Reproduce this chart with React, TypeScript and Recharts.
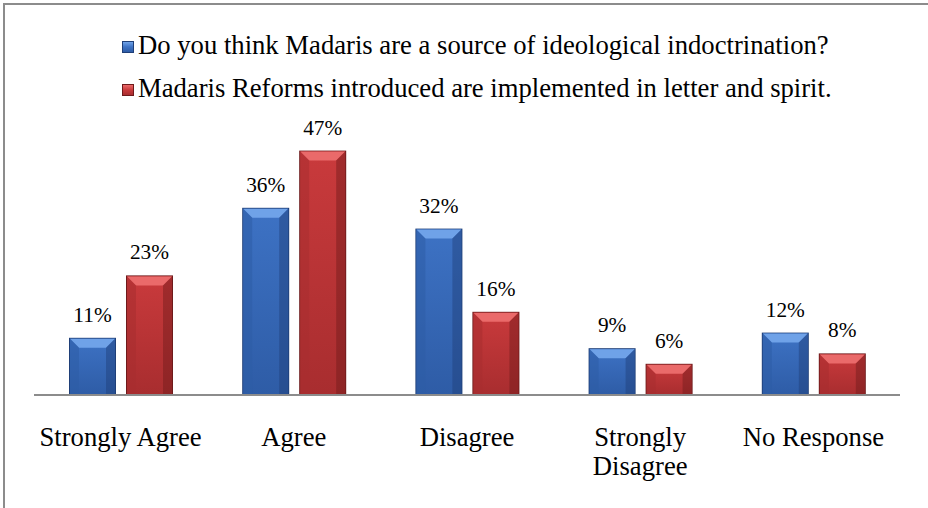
import React from 'react';
import { BarChart, Bar, XAxis, YAxis, LabelList } from 'recharts';

// survey responses (percent)
const categories = ['Strongly Agree', 'Agree', 'Disagree', 'Strongly Disagree', 'No Response'];
const indoctrination = [11, 36, 32, 9, 12];
const reforms = [23, 47, 16, 6, 8];

const seriesNames = [
  'Do you think Madaris are a source of ideological indoctrination?',
  'Madaris Reforms introduced are implemented in letter and spirit.',
];

const data = categories.map((c, i) => ({
  name: c,
  indoctrination: indoctrination[i],
  reforms: reforms[i],
}));

const palette = {
  blue: { face: '#3d72c4', top: '#6fa2e8', side: '#2e5ca6', dark: '#1f3f78' },
  red: { face: '#c93a3c', top: '#ea6a6a', side: '#a82d2f', dark: '#6e1a1b' },
};

const FONT = '"Liberation Serif", "Times New Roman", serif';

const BevelBar = (props: any) => {
  const { x, y, width, height, tone } = props;
  if (!height || height <= 0) return null;
  const c = palette[tone as 'blue' | 'red'];
  const b = Math.min(9, height / 2, width / 2);
  const id = `g-${tone}`;
  return (
    <g>
      <defs>
        <linearGradient id={id} x1="0" y1="0" x2="0" y2="1">
          <stop offset="0%" stopColor={c.face} />
          <stop offset="100%" stopColor={c.side} />
        </linearGradient>
      </defs>
      <rect x={x} y={y} width={width} height={height} fill={c.dark} />
      <rect x={x + 1} y={y + 1} width={width - 2} height={height - 1} fill={`url(#${id})`} />
      <polygon
        points={`${x + 1},${y + 1} ${x + width - 1},${y + 1} ${x + width - 1 - b},${y + 1 + b} ${x + 1 + b},${y + 1 + b}`}
        fill={c.top}
      />
      <polygon
        points={`${x + 1},${y + 1} ${x + 1 + b},${y + 1 + b} ${x + 1 + b},${y + height} ${x + 1},${y + height}`}
        fill={c.side}
        opacity={0.55}
      />
      <polygon
        points={`${x + width - 1},${y + 1} ${x + width - 1 - b},${y + 1 + b} ${x + width - 1 - b},${y + height} ${x + width - 1},${y + height}`}
        fill={c.dark}
        opacity={0.45}
      />
    </g>
  );
};

const CategoryTick = (props: any) => {
  const { x, y, payload } = props;
  const label: string = payload.value;
  let lines = [label];
  if (label.length > 15) {
    const cut = label.lastIndexOf(' ');
    lines = [label.slice(0, cut), label.slice(cut + 1)];
  }
  return (
    <text x={x} y={y + 43} textAnchor="middle" fontFamily={FONT} fontSize={26.67} fill="#000">
      {lines.map((l, i) => (
        <tspan key={i} x={x} dy={i === 0 ? 0 : 29}>
          {l}
        </tspan>
      ))}
    </text>
  );
};

const LegendBox = () => (
  <div
    style={{
      position: 'absolute',
      left: 122,
      top: 24,
      fontFamily: FONT,
      fontSize: 26.67,
      color: '#000',
      lineHeight: '43px',
    }}
  >
    {seriesNames.map((n, i) => {
      const c = i === 0 ? palette.blue : palette.red;
      return (
        <div key={i} style={{ display: 'flex', alignItems: 'center', whiteSpace: 'nowrap' }}>
          <span
            style={{
              display: 'inline-block',
              width: 12,
              height: 12,
              marginRight: 4,
              marginTop: 2,
              background: `linear-gradient(${c.top}, ${c.face} 50%, ${c.side})`,
              border: `1px solid ${c.dark}`,
              boxSizing: 'border-box',
            }}
          />
          {n}
        </div>
      );
    })}
  </div>
);

export default function App() {
  return (
    <div style={{ position: 'absolute', left: 0, top: 0, width: 928, height: 508, overflow: 'hidden', background: '#fff' }}>
      <div
        style={{
          position: 'absolute',
          left: 3,
          top: 3,
          width: 960,
          height: 540,
          border: '2px solid #8c8c8c',
        }}
      />
      <BarChart
        width={928}
        height={508}
        data={data}
        margin={{ top: 135, right: 28, bottom: 0, left: 34 }}
        barGap={10}
        barSize={47}
      >
        <XAxis
          dataKey="name"
          axisLine={{ stroke: '#8c8c8c', strokeWidth: 2 }}
          tickLine={false}
          tick={<CategoryTick />}
          interval={0}
          height={113}
        />
        <YAxis hide domain={[0, 50]} />
        <Bar dataKey="indoctrination" name={seriesNames[0]} isAnimationActive={false} shape={<BevelBar tone="blue" />}>
          <LabelList
            dataKey="indoctrination"
            position="top"
            offset={16}
            formatter={(v: any) => `${v}%`}
            style={{ fontFamily: FONT, fontSize: 21.33, fill: '#000' }}
          />
        </Bar>
        <Bar dataKey="reforms" name={seriesNames[1]} isAnimationActive={false} shape={<BevelBar tone="red" />}>
          <LabelList
            dataKey="reforms"
            position="top"
            offset={16}
            formatter={(v: any) => `${v}%`}
            style={{ fontFamily: FONT, fontSize: 21.33, fill: '#000' }}
          />
        </Bar>
      </BarChart>
      <LegendBox />
    </div>
  );
}
